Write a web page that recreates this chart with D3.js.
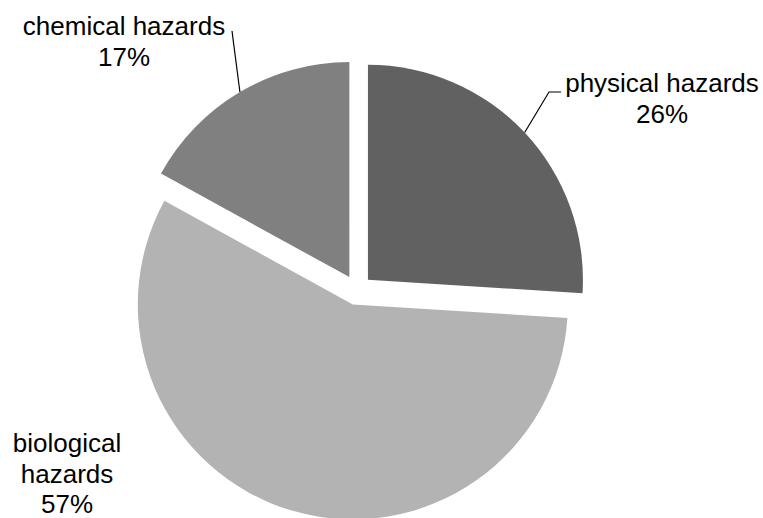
<!DOCTYPE html>
<meta charset="utf-8">
<style>
body { margin: 0; background: #fff; }
.label { font-family: "Liberation Sans", Arial, sans-serif; font-size: 26px; fill: #000; }
.leader { stroke: #000; stroke-width: 1.2; fill: none; }
</style>
<body>
<svg class="chart js-chart"></svg>

<script src="https://d3js.org/d3.v7.min.js"></script>
<script type="text/javascript">
"use strict";

// data
var categories = ["physical hazards", "biological hazards", "chemical hazards"];
var values = [26, 57, 17];
var percentLabels = ["26%", "57%", "17%"];

var width = 763,
  height = 518,
  cx = 357,
  cy = 290,
  radius = 215,
  explode = 15;

var colors = ["#616161", "#b3b3b3", "#808080"];

// label layout: text lines, center x, first baseline, leader end points
var labelLayout = [
  { lines: ["physical hazards", "26%"], x: 662, y: 92, leader: [[549, 92], [561, 92]] },
  { lines: ["biological", "hazards", "57%"], x: 67, y: 452, leader: null },
  { lines: ["chemical hazards", "17%"], x: 124, y: 35, leader: [[232, 31]] }
];

var svg = d3.select('.js-chart')
  .attr('width', width)
  .attr('height', height);

var pie = d3.pie().sort(null).value(function (d) { return d; });
var arc = d3.arc().innerRadius(0).outerRadius(radius);

var arcs = pie(values);

function midAngle(d) { return (d.startAngle + d.endAngle) / 2; }
function shift(d, r) {
  var a = midAngle(d);
  return [r * Math.sin(a), -r * Math.cos(a)];
}

var g = svg.append('g')
  .attr('transform', 'translate(' + cx + ',' + cy + ')');

g.selectAll('.slice')
  .data(arcs)
  .enter().append('path')
    .attr('class', 'slice')
    .attr('transform', function (d) { return 'translate(' + shift(d, explode) + ')'; })
    .attr('d', arc)
    .style('fill', function (d, i) { return colors[i]; });

// leader lines
arcs.forEach(function (d, i) {
  var lay = labelLayout[i];
  if (!lay.leader) return;
  var o = shift(d, explode), p = shift(d, radius);
  var pts = [[cx + o[0] + p[0], cy + o[1] + p[1]]].concat(lay.leader);
  svg.append('path')
    .attr('class', 'leader')
    .attr('d', d3.line()(pts));
});

// labels
labelLayout.forEach(function (lay) {
  var t = svg.append('text')
    .attr('class', 'label')
    .attr('text-anchor', 'middle');
  lay.lines.forEach(function (s, k) {
    t.append('tspan')
      .attr('x', lay.x)
      .attr('y', lay.y + k * 30.5)
      .text(s);
  });
});
</script>
</body>
